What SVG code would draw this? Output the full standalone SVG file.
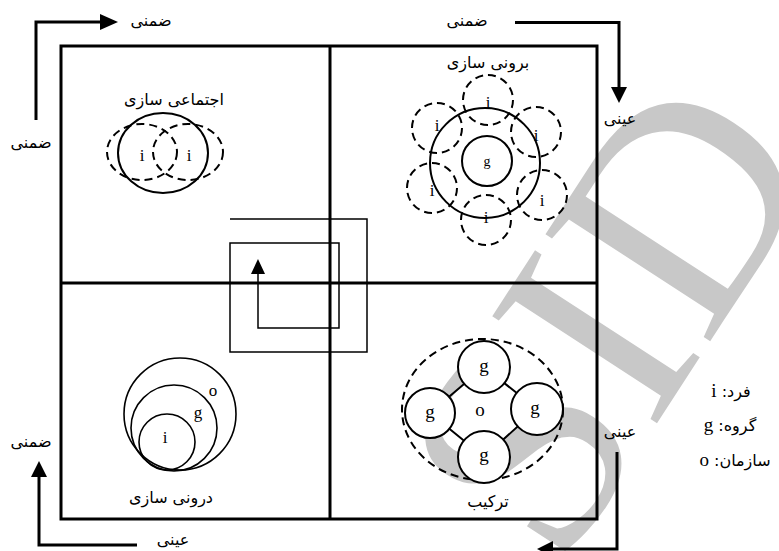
<svg xmlns="http://www.w3.org/2000/svg" width="779" height="551" viewBox="0 0 779 551">
<defs>
<style>
.fa{font-family:"DejaVu Sans",sans-serif;font-size:16px;fill:#000;text-anchor:middle}
.lt{font-family:"Liberation Serif","Times New Roman",serif;font-size:17px;fill:#000;text-anchor:middle}
.thick{stroke:#000;stroke-width:3;fill:none}
.sp{stroke:#000;stroke-width:1.5;fill:none}
.c{stroke:#000;stroke-width:2;fill:none}
.cw{stroke:#000;stroke-width:2;fill:#fff}
.d{stroke:#000;stroke-width:2;fill:none;stroke-dasharray:8 5}
.wm{font-family:"Liberation Serif",serif;font-size:300px;fill:#c8c8c8;text-anchor:middle}
</style>
</defs>
<rect width="779" height="551" fill="#fff"/>
<text class="wm" transform="translate(608,315) rotate(-57)" y="100">SID</text>

<g id="frame">
<rect class="thick" x="61" y="46" width="536" height="473"/>
<line class="thick" x1="330" y1="46" x2="330" y2="519"/>
<line class="thick" x1="61" y1="283" x2="597" y2="283"/>
</g>

<g id="connectors">
<path class="sp" d="M230,219 H367 V352 H230 V243 H339 V328 H258 V274"/>
<polygon points="258,259 251,274 265,274" fill="#000"/>
<path class="thick" d="M36,120 V22 H100"/>
<polygon points="118,22 100,14 100,30" fill="#000"/>
<path class="thick" d="M515,22.5 H619 V87"/>
<polygon points="619,103 611,87 627,87" fill="#000"/>
<path class="thick" d="M617,452 V549 H553"/>
<polygon points="537,549 553,541 553,557" fill="#000"/>
<path class="thick" d="M137,545 H39 V477"/>
<polygon points="39,461 31,477 47,477" fill="#000"/>
</g>

<g id="axis-labels">
<text class="fa" x="151" y="26">ضمنی</text>
<text class="fa" x="31" y="148">ضمنی</text>
<text class="fa" x="467" y="26">ضمنی</text>
<text class="fa" x="620" y="124">عینی</text>
<text class="fa" x="620" y="437">عینی</text>
<text class="fa" x="31" y="447">ضمنی</text>
<text class="fa" x="173" y="545">عینی</text>
<text class="fa" x="512" y="559">عینی</text>
</g>

<g id="socialization">
<text class="fa" x="174" y="105">اجتماعی سازی</text>
<ellipse class="c" cx="163" cy="153" rx="45" ry="40"/>
<ellipse class="d" cx="142" cy="152" rx="35" ry="28"/>
<ellipse class="d" cx="188" cy="152" rx="35" ry="28"/>
<text class="lt" x="142" y="161">i</text>
<text class="lt" x="189" y="161">i</text>
</g>

<g id="externalization">
<text class="fa" x="488" y="68">برونی سازی</text>
<circle class="c" cx="485" cy="163" r="55"/>
<circle class="c" cx="487" cy="161" r="25"/>
<text class="lt" x="487" y="166" style="font-size:14px">g</text>
<circle class="d" cx="488" cy="100" r="25"/>
<circle class="d" cx="437" cy="128" r="25"/>
<circle class="d" cx="536" cy="132" r="25"/>
<circle class="d" cx="432" cy="188" r="25"/>
<circle class="d" cx="542" cy="195" r="25"/>
<circle class="d" cx="486" cy="220" r="25"/>
<text class="lt" x="488" y="108">i</text>
<text class="lt" x="437" y="131">i</text>
<text class="lt" x="536" y="141">i</text>
<text class="lt" x="432" y="196">i</text>
<text class="lt" x="542" y="206">i</text>
<text class="lt" x="486" y="223">i</text>
</g>

<g id="internalization">
<circle class="c" cx="180" cy="414" r="56" style="stroke-width:1.6"/>
<circle class="c" cx="174" cy="428" r="43" style="stroke-width:1.6"/>
<circle class="c" cx="167" cy="442" r="28" style="stroke-width:1.6"/>
<text class="lt" x="213" y="396">o</text>
<text class="lt" x="198" y="418">g</text>
<text class="lt" x="165" y="443">i</text>
<text class="fa" x="171" y="503">درونی سازی</text>
</g>

<g id="combination">
<ellipse class="d" cx="482.5" cy="409.5" rx="80.5" ry="70.5"/>
<path class="c" d="M430,413 L484,367 L537,409 L484,457 Z"/>
<circle class="cw" cx="484" cy="367" r="26"/>
<circle class="cw" cx="430" cy="413" r="25"/>
<circle class="cw" cx="537" cy="409" r="26"/>
<circle class="cw" cx="484" cy="457" r="26"/>
<text class="lt" x="484" y="372" style="font-size:19px">g</text>
<text class="lt" x="430" y="418" style="font-size:19px">g</text>
<text class="lt" x="535" y="414" style="font-size:19px">g</text>
<text class="lt" x="484" y="461" style="font-size:19px">g</text>
<text class="lt" x="480" y="416" style="font-size:19px">o</text>
<text class="fa" x="488" y="507">ترکیب</text>
</g>

<g id="legend">
<text class="fa" x="731" y="397" direction="rtl">فرد: <tspan style="font-family:'Liberation Serif',serif;font-size:19px">i</tspan></text>
<text class="fa" x="730" y="431" direction="rtl">گروه: <tspan style="font-family:'Liberation Serif',serif;font-size:19px">g</tspan></text>
<text class="fa" x="735" y="466" direction="rtl">سازمان: <tspan style="font-family:'Liberation Serif',serif;font-size:19px">o</tspan></text>
</g>
</svg>
